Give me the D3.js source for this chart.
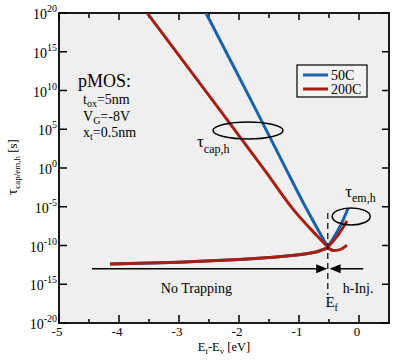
<!DOCTYPE html>
<html>
<head>
<meta charset="utf-8">
<script src="https://cdn.jsdelivr.net/npm/d3@7"></script>
<style>
  body { margin: 0; background: #fff; }
</style>
</head>
<body>
<script>
// values: x = Et-Ev [eV], y = log10(tau [s])
const capBlue = [[-2.55, 20], [-1.73, 7.7], [-1.27, 0.7], [-0.9, -4.9], [-0.52, -10.2]]
const capRed = [[-3.53, 20], [-2.32, 7.5], [-1.57, -0.3], [-1.1, -5.3], [-0.7, -8.75], [-0.52, -10.2]]
const emBlue = [[-0.52, -10.2], [-0.32, -7.6], [-0.18, -5.16]]
const emRed = [[-0.52, -10.2], [-0.35, -8.65], [-0.2, -6.84]]
const lowBlue = [[-4.15, -12.4], [-3, -12.15], [-2, -11.8], [-1.5, -11.55], [-1, -11.2], [-0.7, -10.8], [-0.52, -10.35], [-0.45, -10.6]]
const lowRed = [[-4.15, -12.4], [-3, -12.15], [-2, -11.8], [-1.5, -11.55], [-1, -11.2], [-0.7, -10.8], [-0.52, -10.35],
  [-0.45, -10.62], [-0.35, -10.6], [-0.27, -10.35], [-0.2, -9.95]]
const series = ['50C', '200C']
const colors = ['#1b62ac', '#a52010']
const xMajor = [-5, -4, -3, -2, -1, 0]
const xMinor = [-4.5, -3.5, -2.5, -1.5, -0.5]
const yExp = [-20, -15, -10, -5, 0, 5, 10, 15, 20]

const width = 400, height = 362
const margin = {top: 13, right: 11, bottom: 39, left: 59}
const w = width - margin.left - margin.right,
      h = height - margin.top - margin.bottom

const svg = d3.select('body').append('svg')
    .attr('width', width)
    .attr('height', height)
    .attr('font-family', "'Liberation Serif', 'Times New Roman', Times, serif")

const g = svg.append('g')
    .attr('transform', `translate(${margin.left},${margin.top})`)

const x = d3.scaleLinear().domain([-5, 0.5]).range([0, w])
const y = d3.scaleLog().domain([1e-20, 1e20]).range([h, 0])
const yE = e => y(Math.pow(10, e))

g.append('rect').attr('width', w).attr('height', h).attr('fill', '#efefef')

svg.append('defs').append('clipPath').attr('id', 'clip')
  .append('rect').attr('width', w).attr('height', h)

// ticks (inward, all four sides)
const tickG = g.append('g').attr('stroke', '#000').attr('stroke-width', 1.5)
xMajor.forEach(v => {
  tickG.append('line').attr('x1', x(v)).attr('x2', x(v)).attr('y1', h).attr('y2', h - 8)
  tickG.append('line').attr('x1', x(v)).attr('x2', x(v)).attr('y1', 0).attr('y2', 7)
})
xMinor.forEach(v => {
  tickG.append('line').attr('x1', x(v)).attr('x2', x(v)).attr('y1', h).attr('y2', h - 4)
  tickG.append('line').attr('x1', x(v)).attr('x2', x(v)).attr('y1', 0).attr('y2', 5)
})
yExp.forEach(e => {
  tickG.append('line').attr('x1', 0).attr('x2', 8).attr('y1', yE(e)).attr('y2', yE(e))
  tickG.append('line').attr('x1', w).attr('x2', w - 7).attr('y1', yE(e)).attr('y2', yE(e))
})

// frame
g.append('rect').attr('width', w).attr('height', h)
  .attr('fill', 'none').attr('stroke', '#000').attr('stroke-width', 1.8)

// tick labels
g.selectAll('.xl').data(xMajor).enter().append('text')
  .attr('class', 'xl')
  .attr('x', d => x(d) - 2)
  .attr('y', h + 13)
  .attr('text-anchor', 'middle')
  .style('font-size', '13px')
  .text(d => d === 0 ? '0' : String(d))

yExp.forEach(e => {
  const t = g.append('text')
    .attr('x', -2)
    .attr('y', yE(e) + 6)
    .attr('text-anchor', 'end')
    .style('font-size', '14px')
  t.append('tspan').text('10')
  t.append('tspan').attr('dy', -7).style('font-size', '10px').text(String(e))
})

// axis titles
const xt = svg.append('text')
  .attr('x', 224).attr('y', 351)
  .attr('text-anchor', 'middle')
  .style('font-size', '12.5px')
xt.append('tspan').text('E')
xt.append('tspan').attr('dy', 3).style('font-size', '9px').text('t')
xt.append('tspan').attr('dy', -3).text('-E')
xt.append('tspan').attr('dy', 3).style('font-size', '9px').text('v')
xt.append('tspan').attr('dy', -3).text(' [eV]')

const yt = svg.append('text')
  .attr('transform', 'translate(17,167) rotate(-90)')
  .attr('text-anchor', 'middle')
  .style('font-size', '13px')
yt.append('tspan').style('font-size', '15px').text('τ')
yt.append('tspan').attr('dy', 3).style('font-size', '9px').text('cap/em,h')
yt.append('tspan').attr('dy', -3).text(' [s]')

// curves
const line = d3.line()
  .x(d => x(d[0]))
  .y(d => yE(d[1]))
  .curve(d3.curveCatmullRom.alpha(0.5))

const plot = g.append('g').attr('clip-path', 'url(#clip)')
const curves = [[capBlue, emBlue, lowBlue], [capRed, emRed, lowRed]]
curves.forEach((set, i) => {
  set.forEach(d => {
    plot.append('path')
      .datum(d)
      .attr('d', line)
      .attr('fill', 'none')
      .attr('stroke', colors[i])
      .attr('stroke-width', 3)
      .attr('stroke-linejoin', 'round')
  })
})

// annotations
const ann = g.append('g')
ann.append('ellipse')
  .attr('cx', x(-1.85)).attr('cy', yE(4.85))
  .attr('rx', 35).attr('ry', 8.5)
  .attr('fill', 'none').attr('stroke', '#000').attr('stroke-width', 1.5)
ann.append('ellipse')
  .attr('cx', x(-0.13)).attr('cy', yE(-6.25))
  .attr('rx', 19).attr('ry', 8.5)
  .attr('fill', 'none').attr('stroke', '#000').attr('stroke-width', 1.5)

const capT = ann.append('text').attr('x', x(-2.7)).attr('y', yE(2.7)).style('font-size', '17px')
capT.append('tspan').text('τ')
capT.append('tspan').attr('dy', 6).style('font-size', '12px').text('cap,h')

const emT = ann.append('text').attr('x', x(-0.23)).attr('y', yE(-3.8)).style('font-size', '17px')
emT.append('tspan').text('τ')
emT.append('tspan').attr('dy', 5).style('font-size', '12px').text('em,h')

// Ef marker
ann.append('line')
  .attr('x1', x(-0.52)).attr('x2', x(-0.52))
  .attr('y1', yE(-5.8)).attr('y2', yE(-16.4))
  .attr('stroke', '#000').attr('stroke-width', 1.2)
  .attr('stroke-dasharray', '6,4')

const arrowY = yE(-13)
ann.append('line')
  .attr('x1', x(-4.45)).attr('x2', x(-0.7))
  .attr('y1', arrowY).attr('y2', arrowY)
  .attr('stroke', '#000').attr('stroke-width', 1.5)
ann.append('line')
  .attr('x1', x(0.07)).attr('x2', x(-0.35))
  .attr('y1', arrowY).attr('y2', arrowY)
  .attr('stroke', '#000').attr('stroke-width', 1.5)
const tip1 = x(-0.53), tip2 = x(-0.49)
ann.append('path')
  .attr('d', `M${tip1},${arrowY}L${tip1 - 11},${arrowY - 4.5}L${tip1 - 11},${arrowY + 4.5}Z`)
  .attr('fill', '#000')
ann.append('path')
  .attr('d', `M${tip2},${arrowY}L${tip2 + 11},${arrowY - 4.5}L${tip2 + 11},${arrowY + 4.5}Z`)
  .attr('fill', '#000')

ann.append('text').attr('x', x(-2.71)).attr('y', yE(-16.1))
  .attr('text-anchor', 'middle').style('font-size', '14px').text('No Trapping')
ann.append('text').attr('x', x(-0.27)).attr('y', yE(-16.1))
  .style('font-size', '14px').text('h-Inj.')
const ef = ann.append('text').attr('x', x(-0.56)).attr('y', yE(-17.9)).style('font-size', '15px')
ef.append('tspan').text('E')
ef.append('tspan').attr('dy', 4).style('font-size', '10px').text('f')

// device parameters
const pm = g.append('g')
pm.append('text').attr('x', 19).attr('y', 74).style('font-size', '18px').text('pMOS:')
const params = [['t', 'ox', '=5nm'], ['V', 'G', '=-8V'], ['x', 't', '=0.5nm']]
params.forEach((p, i) => {
  const t = pm.append('text').attr('x', 24).attr('y', 91 + i * 16.5).style('font-size', '14px')
  t.append('tspan').text(p[0])
  t.append('tspan').attr('dy', 3).style('font-size', '10px').text(p[1])
  t.append('tspan').attr('dy', -3).text(p[2])
})

// legend
const lg = svg.append('g').attr('transform', 'translate(297,65)')
lg.append('rect').attr('width', 70).attr('height', 32)
  .attr('fill', '#f3f3f3').attr('stroke', '#000').attr('stroke-width', 1.2)
series.forEach((s, i) => {
  lg.append('line').attr('x1', 6).attr('x2', 31)
    .attr('y1', 10 + i * 14).attr('y2', 10 + i * 14)
    .attr('stroke', colors[i]).attr('stroke-width', 3)
  lg.append('text').attr('x', 34).attr('y', 15 + i * 14)
    .style('font-size', '14px').text(s)
})
</script>
</body>
</html>
